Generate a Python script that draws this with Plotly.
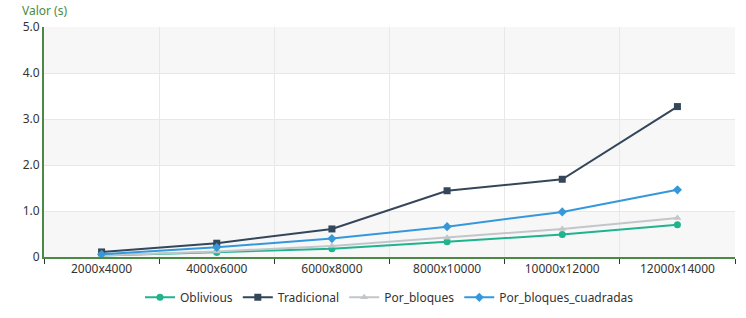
import plotly.graph_objects as go

categories = ["2000x4000", "4000x6000", "6000x8000", "8000x10000", "10000x12000", "12000x14000"]
oblivious = [0.03, 0.10, 0.18, 0.33, 0.49, 0.70]
tradicional = [0.11, 0.30, 0.61, 1.44, 1.69, 3.27]
por_bloques = [0.03, 0.12, 0.24, 0.42, 0.61, 0.85]
por_bloques_cuadradas = [0.06, 0.21, 0.40, 0.66, 0.98, 1.46]
y_ticks = [0, 1, 2, 3, 4, 5]
y_tick_labels = ["0", "1.0", "2.0", "3.0", "4.0", "5.0"]

series = [
    ("Oblivious", oblivious, "#1fb38e", "circle"),
    ("Tradicional", tradicional, "#34465a", "square"),
    ("Por_bloques", por_bloques, "#c3c6c9", "triangle-up"),
    ("Por_bloques_cuadradas", por_bloques_cuadradas, "#3498db", "diamond"),
]

fig = go.Figure()
for name, vals, color, sym in series:
    fig.add_trace(go.Scatter(
        x=categories, y=vals, name=name, mode="lines+markers",
        line=dict(color=color, width=2),
        marker=dict(symbol=sym, size=7, color=color),
    ))

shapes = []
for lo in [0, 2, 4]:
    shapes.append(dict(type="rect", xref="paper", yref="y", x0=0, x1=1, y0=lo, y1=lo + 1,
                       fillcolor="#f7f7f8", line=dict(width=0), layer="below"))

fig.update_layout(
    width=746, height=318,
    margin=dict(l=44, r=11, t=27, b=61, autoexpand=False),
    paper_bgcolor="white", plot_bgcolor="white",
    font=dict(family="Noto Sans, Open Sans, sans-serif", size=12, color="#333"),
    shapes=shapes,
    showlegend=True,
    legend=dict(orientation="h", x=0.5, xanchor="center", yref="container", y=0.065, yanchor="middle",
                font=dict(size=12, color="#333"), itemwidth=30, tracegroupgap=0),
    xaxis=dict(
        type="category", range=[-0.5, 5.5], tickson="boundaries",
        showgrid=True, gridcolor="#e8e8e8", gridwidth=1,
        showline=True, linecolor="#4a8a45", linewidth=2,
        ticks="outside", ticklen=5, tickcolor="#333", tickwidth=1,
        tickfont=dict(size=12, color="#333"), zeroline=False,
    ),
    yaxis=dict(
        range=[0, 5], tickvals=y_ticks, ticktext=y_tick_labels,
        showgrid=True, gridcolor="#e8e8e8", gridwidth=1,
        showline=True, linecolor="#4a8a45", linewidth=2,
        ticks="", tickfont=dict(size=12, color="#333"), zeroline=False,
    ),
    annotations=[dict(text="Valor (s)", xref="paper", yref="paper", x=-0.035, y=1.0,
                      xanchor="left", yanchor="bottom", yshift=6, showarrow=False,
                      font=dict(size=12, color="#4a8a45"))],
)

fig.write_html("out.html")
